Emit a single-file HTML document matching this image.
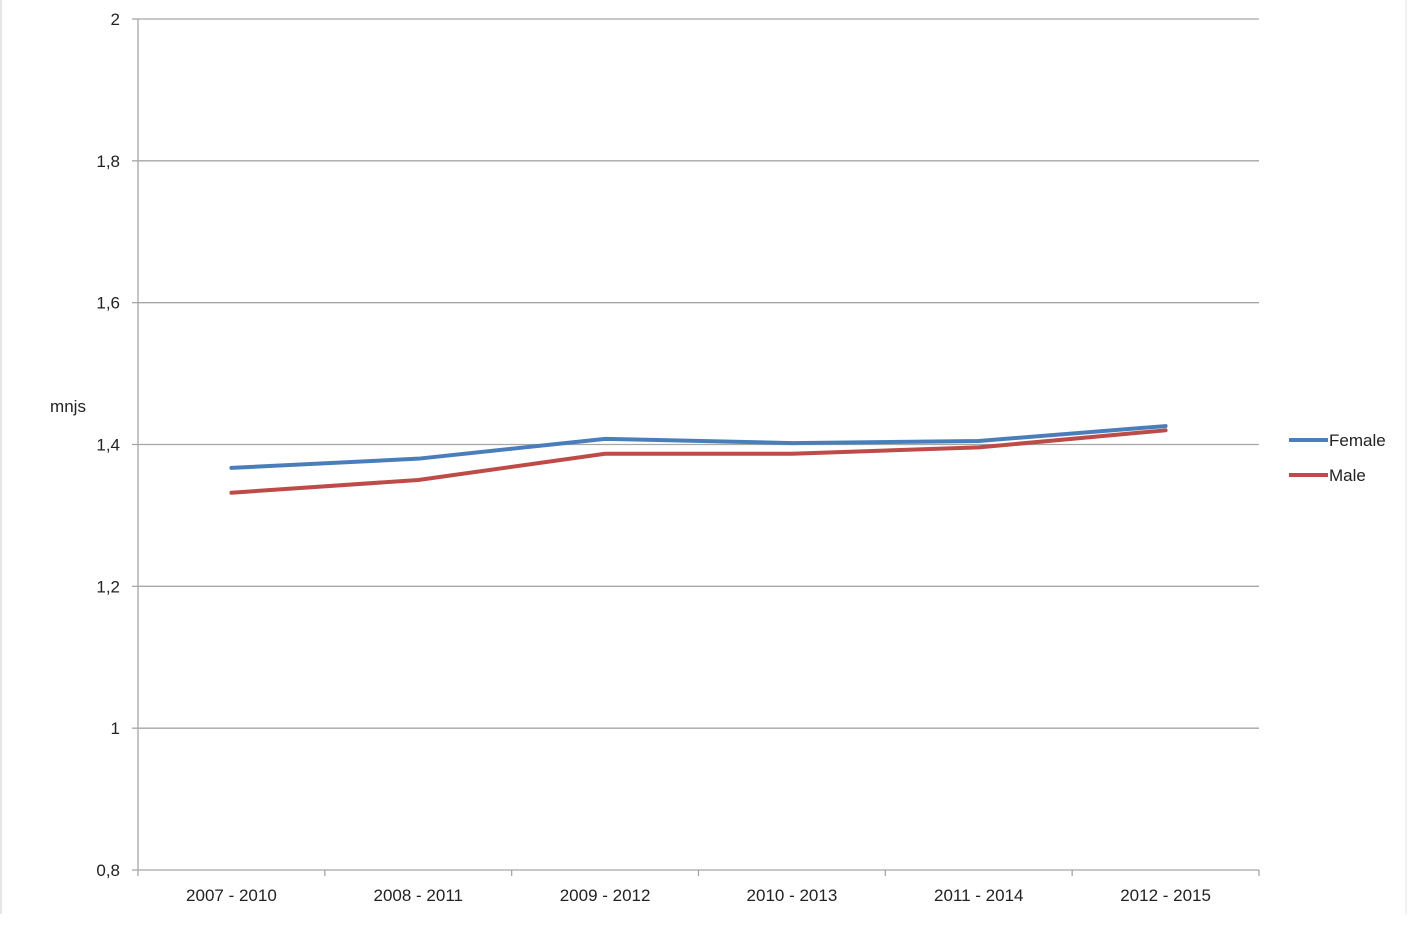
<!DOCTYPE html>
<html><head><meta charset="utf-8"><style>
html,body{margin:0;padding:0;background:#fff;}
svg{display:block;font-family:"Liberation Sans",sans-serif;}
</style></head><body>
<svg id="chart" width="1412" height="929">
<line x1="1" y1="0" x2="1" y2="914" stroke="#ccc" stroke-width="1"/>
<line x1="1406" y1="0" x2="1406" y2="914" stroke="#e4e4e4" stroke-width="1"/>
<g id="grid"></g><g id="axes"></g><g id="series"></g>
<text x="68" y="412" font-size="17" fill="#222" text-anchor="middle">mnjs</text>
<g>
<g><line x1="1289" y1="440" x2="1328" y2="440" stroke="#4a7ebb" stroke-width="4"/><text x="1329" y="446" font-size="17" fill="#222">Female</text></g>
<g><line x1="1289" y1="475" x2="1328" y2="475" stroke="#be4b48" stroke-width="4"/><text x="1329" y="481" font-size="17" fill="#222">Male</text></g>
</g>
</svg>
<script>
const categories=["2007 - 2010","2008 - 2011","2009 - 2012","2010 - 2013","2011 - 2014","2012 - 2015"];
const female=[1.367,1.380,1.408,1.402,1.405,1.426];
const male=[1.332,1.350,1.387,1.387,1.396,1.420];
const yTicks=[0.8,1,1.2,1.4,1.6,1.8,2];
const yTickLabels=["0,8","1","1,2","1,4","1,6","1,8","2"];
const L=138,R=1259,T=19,B=870,yMin=0.8,yMax=2;
const NS="http://www.w3.org/2000/svg";
const bw=(R-L)/categories.length;
const x=i=>L+bw*(i+0.5);
const y=v=>B-(v-yMin)/(yMax-yMin)*(B-T);
function mk(tag,attrs,parent){const e=document.createElementNS(NS,tag);for(const k in attrs)e.setAttribute(k,attrs[k]);parent.appendChild(e);return e;}
const grid=document.getElementById('grid'),axes=document.getElementById('axes'),series=document.getElementById('series');
yTicks.forEach((t,i)=>{
  const yy=y(t);
  if(i>0){const g=mk('line',{x1:L,x2:R,y1:yy,y2:yy,stroke:'#a6a6a6','stroke-width':1.3},grid);
  
  }
  const tk=mk('line',{x1:L-6,x2:L,y1:yy,y2:yy,stroke:'#a6a6a6','stroke-width':1.3},axes);
  
  
  const lb=mk('text',{x:L-18,y:yy+6,'font-size':17,fill:'#222','text-anchor':'end'},axes);
  lb.textContent=yTickLabels[i];
  
  
});
const ya=mk('line',{x1:L,x2:L,y1:T,y2:B,stroke:'#a6a6a6','stroke-width':1.3},axes);


const xa=mk('line',{x1:L,x2:R,y1:B,y2:B,stroke:'#a6a6a6','stroke-width':1.3},axes);


for(let i=0;i<=categories.length;i++){
  const tk=mk('line',{x1:L+bw*i,x2:L+bw*i,y1:B,y2:B+6,stroke:'#a6a6a6','stroke-width':1.3},axes);
  
  
}
categories.forEach((c,i)=>{
  const lb=mk('text',{x:x(i),y:B+31,'font-size':17,fill:'#222','text-anchor':'middle'},axes);
  lb.textContent=c;
  
  
});
[[female,'#4a7ebb','female-line'],[male,'#be4b48','male-line']].forEach(([d,col,n])=>{
  const p=mk('polyline',{points:d.map((v,i)=>x(i)+','+y(v)).join(' '),fill:'none',stroke:col,'stroke-width':4,'stroke-linejoin':'round','stroke-linecap':'round'},series);
  
  
});
</script>
</body></html>
